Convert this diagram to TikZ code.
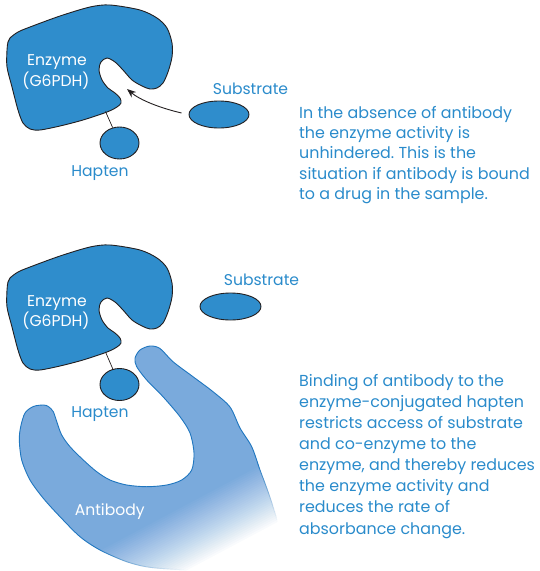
\documentclass[tikz,border=0pt]{standalone}
\usepackage{fontspec}
\setmainfont{Poppins}
\usetikzlibrary{shapes.geometric,arrows.meta}
\definecolor{enzfill}{HTML}{2F8DCC}
\definecolor{inkblue}{HTML}{2A8BCB}
\definecolor{abfill}{HTML}{7AAADC}
\definecolor{abline}{HTML}{1F76BF}
\definecolor{outline}{HTML}{231F20}
\frenchspacing

\begin{document}
\begin{tikzpicture}[x=1pt,y=-1pt,
  enzyme/.style={fill=enzfill, draw=outline, line width=0.9pt},
  antibody/.style={fill=abfill, draw=abline, line width=0.9pt},
  blob/.style={ellipse, fill=enzfill, draw=outline, line width=0.9pt, inner sep=0pt},
  lbl/.style={text=inkblue, font=\fontsize{15.6}{18}\selectfont, inner sep=0pt, anchor=base},
  wlbl/.style={text=white, font=\fontsize{15.6}{18}\selectfont, inner sep=0pt, anchor=base},
  para/.style={text=inkblue, align=left, inner sep=0pt, anchor=north west},
  link/.style={draw=outline, line width=0.7pt},
  bind/.style={draw=outline, line width=0.9pt, -{Stealth[length=9pt,width=7pt]}},
]
\useasboundingbox (0,0) rectangle (539,571);

% the two enzyme molecules, same outline in both panels
\foreach \dy in {0,240} {
  \draw[enzyme, shift={(0,\dy)}] plot[smooth cycle, tension=0.5] coordinates {
    (8,42) (10,38) (18,32) (30,27) (60,16) (90,7) (110,5) (140,10) (157,18)
    (167,28) (172,43) (172,57) (168,72) (163,83) (157,88) (150,89) (142,86)
    (132,80) (123,70) (115,62) (107,58) (101,62) (99,70) (102,80) (108,88)
    (115,93) (120,98) (121,103) (117,107) (107,112) (83,120) (60,126)
    (40,130) (30,129) (23,123) (18,110) (12,87) (7,67) (7,50)};
}

% ---------- top panel ----------
\node[wlbl] (enzA) at (57,65.7) {Enzyme};
\node[wlbl] (enzAid) at (56,86) {(G6PDH)};
\node[blob, minimum width=39pt, minimum height=32pt] (hapA) at (119.5,143) {};
\node[blob, minimum width=60pt, minimum height=27pt] (subA) at (219,114.5) {};
\node[lbl] (hapAlbl) at (100,176) {Hapten};
\node[lbl] (subAlbl) at (250.5,94) {Substrate};
\coordinate (stemA) at (105.5,111.5);
\coordinate (siteA) at (127,89);
\coordinate (tailA) at ([shift={(-7,-1.5)}]subA.west);
\draw[link] (stemA) -- (hapA);
\draw[bind] (tailA) .. controls (160,108) and (140,100) .. (siteA);

\node[para, font=\fontsize{15.9}{20.3}\selectfont] (noteA) at (299,106)
  {In the absence of antibody\\the enzyme activity is\\unhindered. This is the\\situation if antibody is bound\\to a drug in the sample.};

% ---------- bottom panel ----------
\draw[antibody] plot[smooth cycle, tension=0.5] coordinates {
  (43.3,405) (33.3,406.5) (25,413) (20.7,426.7) (19.3,440) (21.7,460) (30,480)
  (43.3,498.3) (60,516.7) (80,536.7) (100,550) (126.7,561.7) (150,567.3)
  (187,570) (230,572) (265,555) (277,527) (273,507) (266.7,488) (260,470)
  (251.7,446.7) (240,428) (230,407) (213,391.7) (193,376.7) (173,361.7)
  (160,348.5) (150,346) (140,350) (135,358.3) (136.7,366.7) (146.7,380)
  (163,396.7) (180,416.7) (190,433) (194,453) (191.7,470) (181.7,480)
  (166.7,485) (146.7,486.7) (126.7,485) (110,480) (96.7,471.7) (83.3,460)
  (70,446.7) (61.7,435) (57.3,423.3) (53.3,411.7) (48.3,406.5)};

% antibody fades out towards its lower right end
\begin{scope}
  \clip (100,400) rectangle (292,575);
  \begin{scope}[shift={(247,472.6)}, rotate=-62]
    \foreach \k in {1,...,30} {
      \pgfmathsetmacro\op{1/(31-\k)}
      \pgfmathsetmacro\st{(\k-1)*60/30}
      \fill[white, opacity=\op] (\st,-200) rectangle (300,200);
    }
  \end{scope}
\end{scope}

\node[wlbl] (abB) at (109.7,515) {Antibody};
\node[wlbl] (enzB) at (57,306.7) {Enzyme};
\node[wlbl] (enzBid) at (56,326.7) {(G6PDH)};
\node[blob, minimum width=39pt, minimum height=32pt] (hapB) at (119.5,384.5) {};
\node[blob, minimum width=61pt, minimum height=27pt] (subB) at (230.5,306.5) {};
\node[lbl] (hapBlbl) at (100,417.5) {Hapten};
\node[lbl] (subBlbl) at (261.5,285.7) {Substrate};
\coordinate (stemB) at (105.5,352);
\draw[link] (stemB) -- (hapB);

\node[para, font=\fontsize{15.9}{21.1}\selectfont] (noteB) at (299,374)
  {Binding of antibody to the\\enzyme-conjugated hapten\\restricts access of substrate\\and co-enzyme to the\\enzyme, and thereby reduces\\the enzyme activity and\\reduces the rate of\\absorbance change.};
\end{tikzpicture}
\end{document}
